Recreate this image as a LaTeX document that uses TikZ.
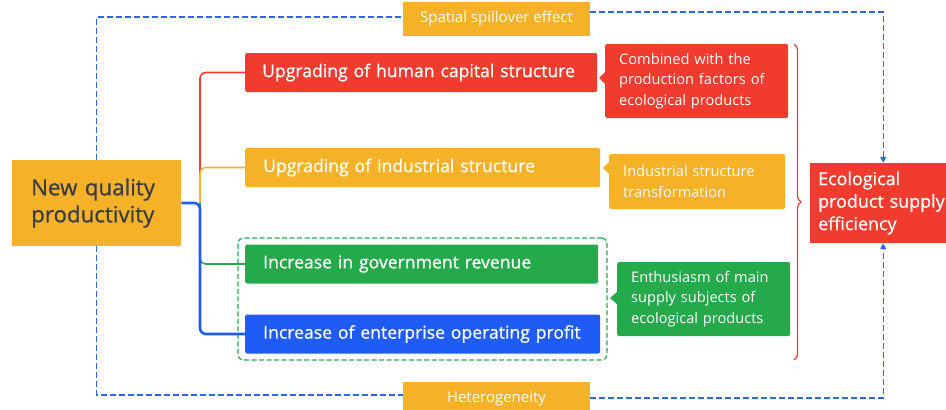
\documentclass[tikz,border=0pt]{standalone}
\usepackage{fontspec}
\setmainfont{Open Sans}
\newfontfamily\semifont{Open Sans}[FakeBold=0.8]
\usepackage{tikz}
\usetikzlibrary{positioning,arrows.meta,decorations.pathreplacing}

\definecolor{ecored}{HTML}{F03B2E}
\definecolor{ecoorange}{HTML}{F5B128}
\definecolor{ecogreen}{HTML}{25AA4B}
\definecolor{ecoblue}{HTML}{1F5CF6}
\definecolor{spillblue}{HTML}{2B66F0}
\definecolor{darktext}{HTML}{3A3D42}

\begin{document}
\begin{tikzpicture}[x=1pt,y=-1pt,
  %%Estilos
  box/.style = {anchor=west, rounded corners=2pt, text=white, align=left,
    inner ysep=0pt, font=\semifont\fontsize{17.6}{20}\selectfont},
  mainbox/.style = {box, minimum height=39pt, inner xsep=18pt, text width=319pt},
  note/.style = {box, inner xsep=14pt, font=\normalfont\fontsize{14.6}{20.5}\selectfont},
  tag/.style = {fill=ecoorange, text=white, minimum width=187pt,
    minimum height=34pt, font=\fontsize{15}{17}\selectfont},
  branch/.style = {line width=1.6pt, rounded corners=6pt},
  spill/.style = {spillblue, line width=1.3pt, dash pattern=on 6pt off 3pt},
  spillarrow/.style = {spill, -{Triangle[length=6pt,width=6pt]}}
  ]
  \useasboundingbox (0,0) rectangle (946,410);

  %%Nodos
  \node [fill=ecoorange, anchor=west, text=darktext, align=left, inner xsep=19pt,
    text width=131pt, minimum height=86pt, font=\semifont\fontsize{22.3}{27}\selectfont]
    (nq) at (12,203) {New quality\\productivity};
  \node [fill=ecored, anchor=west, text=white, align=left, inner xsep=8pt,
    text width=140pt, minimum height=80pt, font=\semifont\fontsize{17.9}{22.5}\selectfont]
    (eco) at (810,203) {Ecological\\product supply\\efficiency};

  \node [mainbox, fill=ecored, text width=318pt, inner xsep=17pt] (human) at (245,72.5)
    {Upgrading of human capital structure};
  \node [mainbox, fill=ecoorange] (ind) at (245,167.5)
    {Upgrading of industrial structure};
  \node [mainbox, fill=ecogreen, text width=317pt] (gov) at (245,264)
    {Increase in government revenue};
  \node [mainbox, fill=ecoblue] (ent) at (245,334)
    {Increase of enterprise operating profit};

  \node [draw=ecogreen, line width=1.2pt, dash pattern=on 5pt off 2.5pt,
    rounded corners=5pt, minimum width=369pt, minimum height=122pt]
    (grp) at (422.5,299) {};

  \node [note, fill=ecored, text width=155pt, minimum height=74pt] (comb) at (605,81)
    {Combined with the\\production factors of\\ecological products};
  \node [note, fill=ecoorange, text width=148pt, minimum height=55pt] (indt) at (609,181.5)
    {Industrial structure\\transformation};
  \node [note, fill=ecogreen, text width=145pt, minimum height=74pt] (enth) at (617,299)
    {Enthusiasm of main\\supply subjects of\\ecological products};

  \node [tag] (spatial) at (496.5,19) {Spatial spillover effect};
  \node [tag] (het) at (496.5,399) {Heterogeneity};

  %%Muescas
  \fill [ecored] ([yshift=9pt]comb.west) -- ([xshift=-6pt,yshift=3pt]comb.west)
    -- ([yshift=-3pt]comb.west) -- cycle;
  \fill [ecoorange] ([yshift=19.5pt]indt.west) -- ([xshift=-6pt,yshift=13.5pt]indt.west)
    -- ([yshift=7.5pt]indt.west) -- cycle;
  \fill [ecogreen] ([yshift=7pt]enth.west) -- ([xshift=-7pt,yshift=1pt]enth.west)
    -- ([yshift=-5pt]enth.west) -- cycle;

  %%Conectores
  \coordinate (hub) at (200,203);
  \draw [branch, ecored] (hub) |- (human.west);
  \draw [branch, ecoorange] ([yshift=-2pt]hub) |- (ind.west);
  \draw [branch, ecogreen] (hub) |- (gov.west);
  \draw [branch, ecoblue, line width=2.6pt] (nq.east) -- (hub) |- (ent.west);

  \draw [spill] (nq.north) |- ([yshift=2pt]spatial.west);
  \draw [spillarrow] ([yshift=7pt]spatial.east) -| ([xshift=-5pt]eco.north);
  \draw [spill] (nq.south) |- ([yshift=4pt]het.west);
  \draw [spillarrow] ([yshift=1pt]het.east) -| ([xshift=-5pt]eco.south);

  \draw [ecored, line width=1.2pt, decorate, decoration={brace, amplitude=7pt}]
    (794,44) -- (794,360);
\end{tikzpicture}
\end{document}
